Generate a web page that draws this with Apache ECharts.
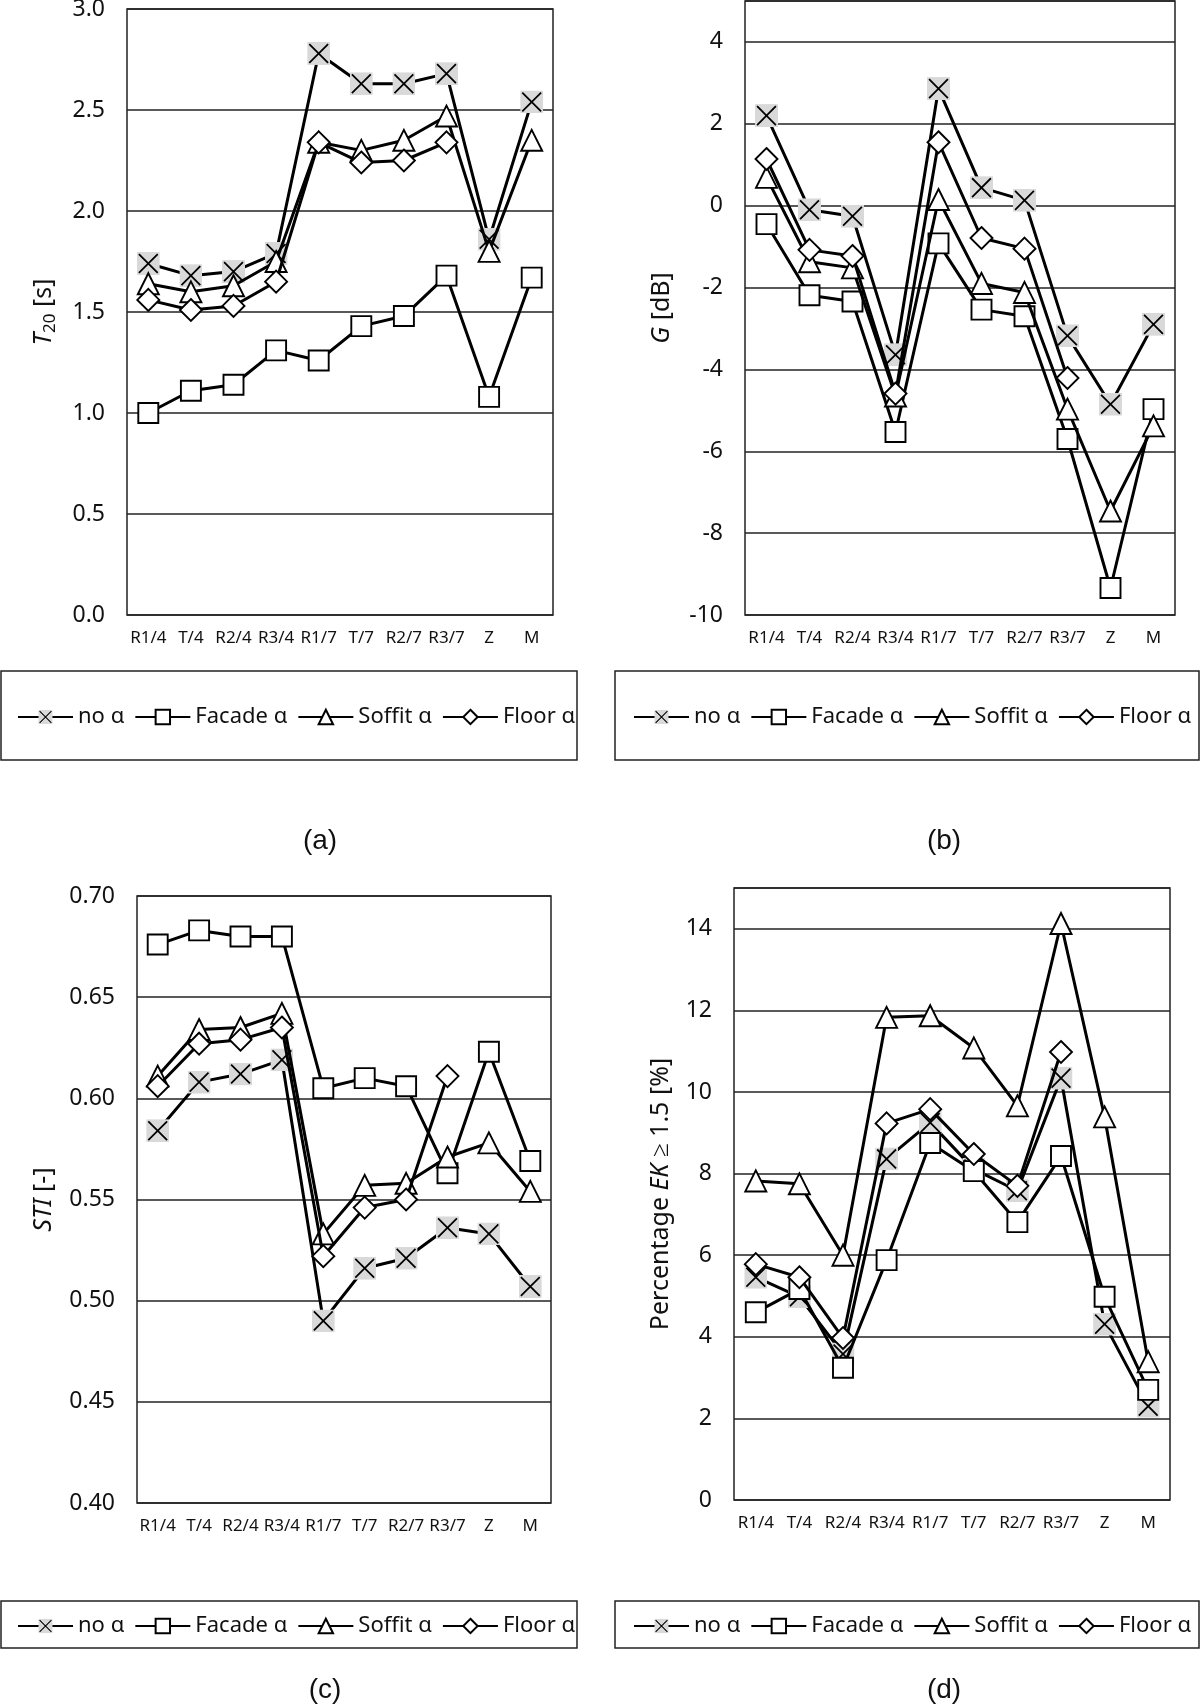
<!DOCTYPE html>
<html>
<head>
<meta charset="utf-8">
<script src="https://cdn.jsdelivr.net/npm/echarts@6/dist/echarts.min.js"></script>
<style>
  html, body { margin: 0; padding: 0; background: #fff; }
  #main { width: 1200px; height: 1706px; }
</style>
</head>
<body>
<div id="main"></div>
<script>
// positions on the x axis
const cats = ['R1/4', 'T/4', 'R2/4', 'R3/4', 'R1/7', 'T/7', 'R2/7', 'R3/7', 'Z', 'M']
const names = ['no α', 'Facade α', 'Soffit α', 'Floor α']

// (a) T20 [s]
const t20NoA = [1.74, 1.68, 1.70, 1.79, 2.78, 2.63, 2.63, 2.68, 1.86, 2.54]
const t20Facade = [1.00, 1.11, 1.14, 1.31, 1.26, 1.43, 1.48, 1.68, 1.08, 1.67]
const t20Soffit = [1.64, 1.60, 1.63, 1.75, 2.34, 2.30, 2.35, 2.47, 1.80, 2.35]
const t20Floor = [1.56, 1.51, 1.53, 1.65, 2.34, 2.24, 2.25, 2.34, null, null]

// (b) G [dB]
const gNoA = [2.20, -0.10, -0.26, -3.64, 2.86, 0.44, 0.13, -3.18, -4.85, -2.90]
const gFacade = [-0.45, -2.19, -2.34, -5.53, -0.92, -2.54, -2.70, -5.70, -9.34, -4.97]
const gSoffit = [0.69, -1.37, -1.52, -4.65, 0.15, -1.90, -2.12, -4.97, -7.46, -5.38]
const gFloor = [1.14, -1.08, -1.23, -4.59, 1.55, -0.79, -1.05, -4.21, null, null]

// (c) STI [-]
const stiNoA = [0.584, 0.608, 0.612, 0.619, 0.490, 0.516, 0.521, 0.536, 0.533, 0.507]
const stiFacade = [0.676, 0.683, 0.680, 0.680, 0.605, 0.610, 0.606, 0.563, 0.623, 0.569]
const stiSoffit = [0.611, 0.634, 0.635, 0.642, 0.533, 0.557, 0.558, 0.571, 0.578, 0.554]
const stiFloor = [0.606, 0.627, 0.629, 0.635, 0.522, 0.546, 0.550, 0.611, null, null]

// (d) Percentage EK >= 1.5 [%]
const ekNoA = [5.46, 4.98, 3.58, 8.36, 9.25, 8.11, 7.58, 10.34, 4.31, 2.30]
const ekFacade = [4.60, 5.17, 3.24, 5.88, 8.75, 8.06, 6.81, 8.43, 4.98, 2.70]
const ekSoffit = [7.82, 7.75, 6.00, 11.83, 11.87, 11.08, 9.66, 14.13, 9.39, 3.39]
const ekFloor = [5.78, 5.46, 3.97, 9.23, 9.58, 8.48, 7.70, 10.98, null, null]

const font = 'Noto Sans'
const ink = '#111'

// grey square with a black cross, like the spreadsheet marker
const xSvg = "<svg xmlns='http://www.w3.org/2000/svg' width='44' height='44' viewBox='0 0 22 22'>" +
  "<rect width='22' height='22' fill='#d9d9d9'/>" +
  "<path d='M2,2L20,20M20,2L2,20' stroke='#000' stroke-width='1.7'/></svg>"
const xSymbol = 'image://data:image/svg+xml;charset=utf-8,' + encodeURIComponent(xSvg)

const marks = [
  { symbol: xSymbol, size: 23 },
  { symbol: 'rect', size: 20 },
  { symbol: 'triangle', size: 21 },
  { symbol: 'diamond', size: 22 },
]

const grids = [
  { left: 127, top: 9, width: 426, height: 606 },
  { left: 745, top: 1, width: 430, height: 614 },
  { left: 137, top: 896, width: 414, height: 607 },
  { left: 734, top: 888, width: 436, height: 612 },
]

const yDefs = [
  { min: 0, max: 3, interval: 0.5, fmt: v => v.toFixed(1), name: '{i|T}{s|20}{n| [s]}', gap: 68 },
  { min: -10, max: 5, interval: 2, fmt: v => String(v), name: '{i|G}{n| [dB]}', gap: 68 },
  { min: 0.4, max: 0.7, interval: 0.05, fmt: v => v.toFixed(2), name: '{i|STI}{n| [-]}', gap: 78 },
  { min: 0, max: 15, interval: 2, fmt: v => String(v), name: '{n|Percentage }{i|EK}{n| ≥ 1.5 [%]}', gap: 58 },
]

const panels = [
  [t20NoA, t20Facade, t20Soffit, t20Floor],
  [gNoA, gFacade, gSoffit, gFloor],
  [stiNoA, stiFacade, stiSoffit, stiFloor],
  [ekNoA, ekFacade, ekSoffit, ekFloor],
]

const xAxis = grids.map((g, i) => ({
  type: 'category',
  gridIndex: i,
  data: cats,
  boundaryGap: true,
  axisLine: { show: false },
  axisTick: { show: false },
  axisLabel: { interval: 0, margin: 15, fontSize: 17, fontFamily: font, color: ink },
}))

const yAxis = yDefs.map((d, i) => ({
  type: 'value',
  gridIndex: i,
  min: d.min,
  max: d.max,
  interval: d.interval,
  axisLine: { show: false },
  axisTick: { show: false },
  splitLine: { show: true, lineStyle: { color: '#222', width: 1.5 } },
  axisLabel: {
    margin: 22, fontSize: 23, fontFamily: font, color: ink,
    showMaxLabel: i === 0 || i === 2,
    formatter: d.fmt,
  },
  name: d.name,
  nameLocation: 'middle',
  nameRotate: 90,
  nameGap: d.gap,
  nameTextStyle: {
    fontFamily: font, color: ink, fontSize: 25,
    rich: {
      i: { fontStyle: 'italic', fontSize: 25, lineHeight: 30, fontFamily: font, color: ink },
      n: { fontSize: 25, lineHeight: 30, fontFamily: font, color: ink },
      s: { fontSize: 17, lineHeight: 17, verticalAlign: 'bottom', fontFamily: font, color: ink },
    },
  },
}))

const series = []
panels.forEach((sets, p) => {
  sets.forEach((vals, k) => {
    series.push({
      type: 'line',
      name: names[k],
      xAxisIndex: p,
      yAxisIndex: p,
      data: vals,
      symbol: marks[k].symbol,
      symbolSize: marks[k].size,
      showAllSymbol: true,
      connectNulls: false,
      lineStyle: { color: '#000', width: 3 },
      itemStyle: { color: '#fff', borderColor: '#000', borderWidth: 1.9 },
      emphasis: { disabled: true },
      z: 2 + k,
    })
  })
})

const legendPos = [
  { left: 12, top: 701 },
  { left: 628, top: 701 },
  { left: 12, top: 1610 },
  { left: 628, top: 1610 },
]
const legend = legendPos.map(pos => ({
  data: names,
  left: pos.left,
  top: pos.top,
  width: 700,
  orient: 'horizontal',
  itemWidth: 55,
  itemHeight: 18,
  itemGap: 10,
  selectedMode: false,
  textStyle: { fontFamily: font, fontSize: 22, color: ink },
}))

const boxes = [
  { x: 1, y: 671, w: 576, h: 89 },
  { x: 615, y: 671, w: 584, h: 89 },
  { x: 1, y: 1601, w: 576, h: 47 },
  { x: 615, y: 1601, w: 584, h: 47 },
]
const tags = [
  { t: '(a)', x: 320, y: 841 },
  { t: '(b)', x: 944, y: 841 },
  { t: '(c)', x: 325, y: 1690 },
  { t: '(d)', x: 944, y: 1690 },
]
const graphic = boxes.map(b => ({
  type: 'rect',
  shape: { x: b.x, y: b.y, width: b.w, height: b.h },
  style: { fill: 'none', stroke: '#222', lineWidth: 1.5 },
  silent: true,
})).concat(tags.map(t => ({
  type: 'text',
  x: t.x,
  y: t.y,
  style: { text: t.t, font: '28px "Liberation Sans"', fill: ink, align: 'center', verticalAlign: 'middle' },
  silent: true,
})))

const chart = echarts.init(document.getElementById('main'))
chart.setOption({
  animation: false,
  backgroundColor: '#fff',
  grid: grids.map(g => Object.assign({
    show: true, borderColor: '#222', borderWidth: 1.5, backgroundColor: 'transparent',
    containLabel: false, outerBoundsMode: 'none',
  }, g)),
  xAxis,
  yAxis,
  legend,
  series,
  graphic,
})
</script>
</body>
</html>
